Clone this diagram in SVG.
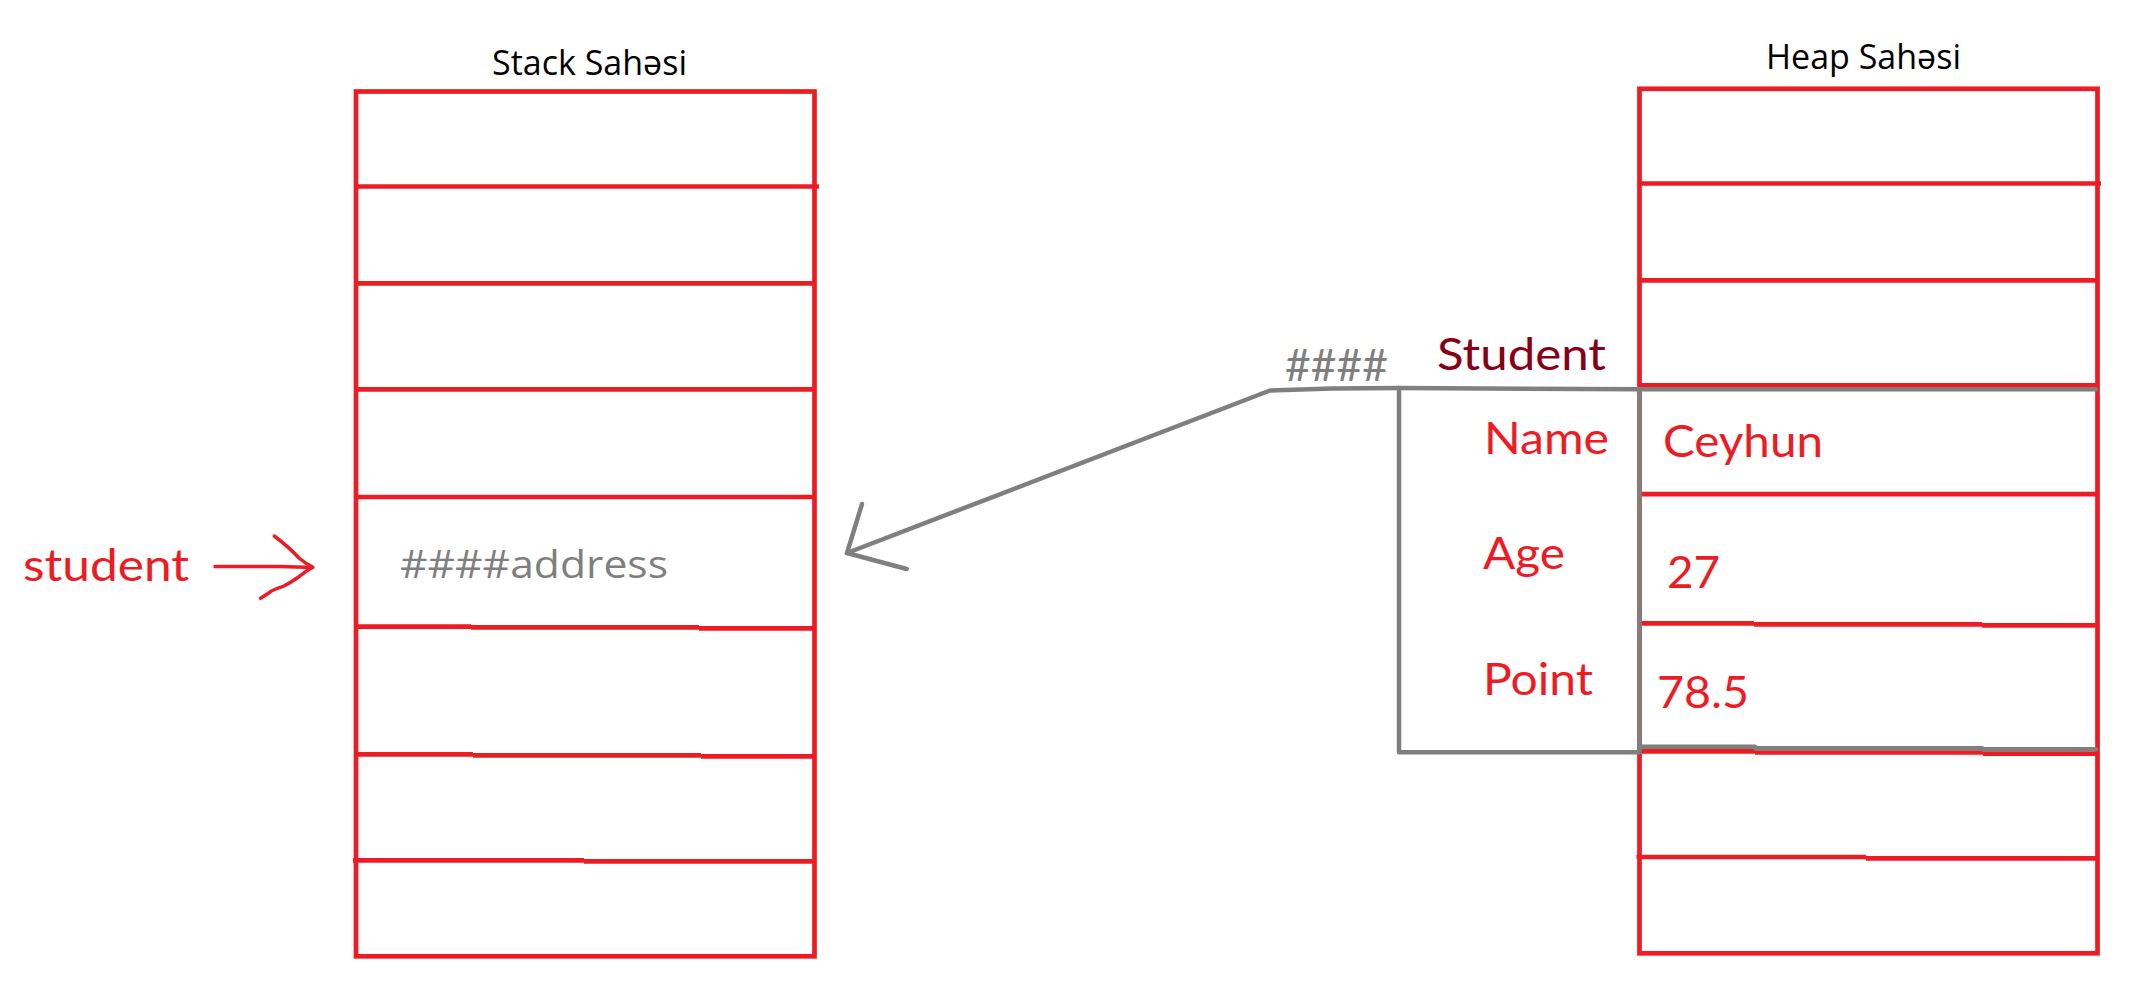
<svg xmlns="http://www.w3.org/2000/svg" width="2132" height="990" viewBox="0 0 2132 990">
<style>
.red{fill:none;stroke:#ED1C24;stroke-width:4.7;stroke-linecap:butt}
.gray{fill:none;stroke:#7F7F7F;stroke-width:4.5;stroke-linecap:round;stroke-linejoin:round}
.hdr{font-family:"Open Sans","Noto Sans","Liberation Sans",sans-serif;font-size:34px;fill:#000}
.lbl{font-family:Lato,"Liberation Sans",sans-serif;font-size:45px;fill:#ED1C24}
.dark{fill:#880015}
.addr{font-family:"Open Sans","Noto Sans","Liberation Sans",sans-serif;font-size:38px;fill:#7F7F7F}
.hash{font-family:Lato,"Liberation Sans",sans-serif;font-size:45px;fill:#7F7F7F}
</style>
<rect width="2132" height="990" fill="#FFFFFF"/>

<g id="stack">
  <text class="hdr" x="492" y="75" textLength="195" lengthAdjust="spacingAndGlyphs">Stack Sahəsi</text>
  <rect class="red" x="356" y="91.5" width="458.5" height="864.8"/>
  <path class="red" d="M356,186.5 H819"/>
  <path class="red" d="M356,283.3 H814.5"/>
  <path class="red" d="M356,389.3 H814.5"/>
  <path class="red" d="M356,497 H814.5"/>
  <path class="red" d="M356,626.7 H471 M471,627.4 H699 M699,628.3 H814.5"/>
  <path class="red" d="M356,754.3 H473 M473,755.3 H701 M701,756.3 H814.5"/>
  <path class="red" d="M353,860.3 H584 M584,861.3 H814.5"/>
  <text class="addr" x="400" y="578" textLength="268" lengthAdjust="spacingAndGlyphs">####address</text>
</g>

<g id="heap">
  <text class="hdr" x="1766" y="69.3" textLength="195" lengthAdjust="spacingAndGlyphs">Heap Sahəsi</text>
  <rect class="red" x="1639.5" y="88.8" width="458" height="864.5"/>
  <path class="red" d="M1639.5,183.5 H2101"/>
  <path class="red" d="M1639.5,280.3 H2097.5"/>
  <path class="red" d="M1639.5,385.3 H2097.5"/>
  <path class="red" d="M1639.5,494.2 H2097.5"/>
  <path class="red" d="M1639.5,623.3 H1754 M1754,624.3 H1982 M1982,625.3 H2097.5"/>
  <path class="red" d="M1639.5,751.3 H1755 M1755,752.5 H1983 M1983,753.7 H2097.5"/>
  <path class="red" d="M1636.5,857 H1866 M1866,858.3 H2097.5"/>
</g>

<g id="student-object">
  <path class="gray" d="M1399,388 V752.3 H1639.5"/>
  <path class="gray" d="M1399,388 L1639.5,389.3 H2096"/>
  <path class="gray" d="M1639.5,389.3 V750"/>
  <path class="gray" stroke-linecap="butt" d="M1639.5,746.7 H1755 M1755,748.3 H1982 M1982,749.3 H2096"/>
  <text class="lbl dark" x="1437" y="370" textLength="169" lengthAdjust="spacingAndGlyphs">Student</text>
  <text class="lbl" x="1484" y="454.3" textLength="125" lengthAdjust="spacingAndGlyphs">Name</text>
  <text class="lbl" x="1663" y="456.7" textLength="160" lengthAdjust="spacingAndGlyphs">Ceyhun</text>
  <text class="lbl" x="1483" y="569.3" textLength="82" lengthAdjust="spacingAndGlyphs">Age</text>
  <text class="lbl" x="1667" y="587.7" textLength="53" lengthAdjust="spacingAndGlyphs">27</text>
  <text class="lbl" x="1483" y="695" textLength="110" lengthAdjust="spacingAndGlyphs">Point</text>
  <text class="lbl" x="1657" y="707.7" textLength="92" lengthAdjust="spacingAndGlyphs">78.5</text>
  <text class="hash" x="1285" y="380.7" textLength="103" lengthAdjust="spacingAndGlyphs">####</text>
</g>

<g id="student-var">
  <text class="lbl" x="23" y="581" textLength="166" lengthAdjust="spacingAndGlyphs">student</text>
</g>

<g id="connectors">
  <path class="gray" d="M1399,388 L1332,388.5 L1270,390.5 L847,553"/>
  <path class="gray" d="M862,504 L847,553 L906.7,569"/>
  <path fill="none" stroke="#ED1C24" stroke-width="3.5" stroke-linecap="round" stroke-linejoin="round" d="M215,566.5 H280 L312.7,567.5"/>
  <path fill="none" stroke="#ED1C24" stroke-width="3.5" stroke-linecap="round" stroke-linejoin="round" d="M274.3,536 Q290,548 299,558 Q306,564 312.7,567 Q306,571 299,576.7 Q290,583 282.5,586.7 Q272,590 268.8,593 L260.6,598.3"/>
</g>
</svg>
